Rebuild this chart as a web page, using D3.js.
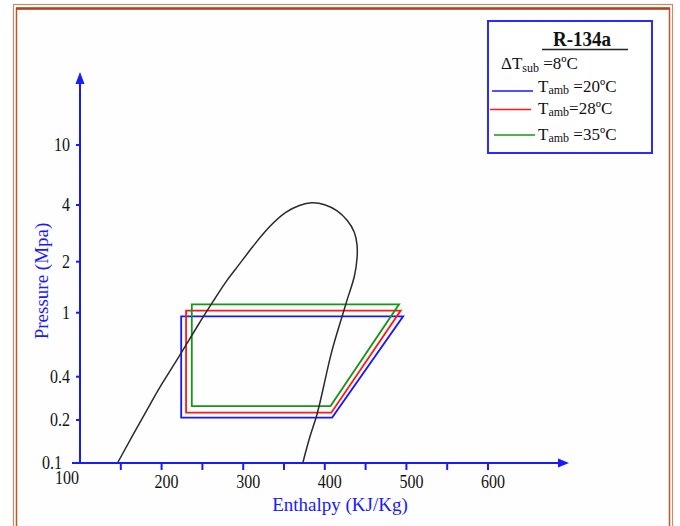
<!DOCTYPE html>
<html>
<head>
<meta charset="utf-8">
<script src="https://cdn.jsdelivr.net/npm/d3@7"></script>
<style>
  body { margin: 0; background: #ffffff; }
  svg { display: block; }
  text { font-family: "Liberation Serif", "Times New Roman", serif; }
</style>
</head>
<body>
<svg id="chart" width="680" height="526"></svg>
<script>
// Axis ticks and labels
const xTickValues = [150, 200, 250, 300, 350, 400, 450, 500, 550, 600];
const xTickLabels = [100, 200, 300, 400, 500, 600];
const yTickValues = [0.1, 0.2, 0.4, 1, 2, 4, 10];

// Saturation dome of R-134a (enthalpy kJ/kg, pressure MPa)
const domeH = [146, 168, 189, 197, 222, 246, 265, 280, 292, 311, 332, 353, 369, 384, 400, 415, 428, 437, 440, 440, 437, 429, 424, 416, 407, 399, 390, 383, 373];
const domeP = [0.1, 0.17, 0.275, 0.334, 0.538, 0.863, 1.205, 1.56, 1.84, 2.39, 3.09, 3.72, 4.0, 4.19, 4.06, 3.76, 3.33, 2.88, 2.45, 2.12, 1.63, 1.27, 1.05, 0.78, 0.546, 0.35, 0.207, 0.165, 0.1];

// Refrigeration cycles for three ambient temperatures
const cycleLabels = ["20ºC", "28ºC", "35ºC"];
const cycleColors = ["#1818ff", "#ff1818", "#169616"];
const hCondOut = [224, 230, 237];   // enthalpy after condenser / expansion
const hEvapOut = [409, 408, 407];   // enthalpy at compressor inlet
const hCompOut = [496, 493, 491];   // enthalpy at compressor outlet
const pHigh = [0.95, 1.03, 1.12];   // condensing pressure
const pLow = [0.208, 0.225, 0.25];  // evaporating pressure

const svg = d3.select("#chart");
const axisBlue = "#1a1aff";
const stretch = "scale(1,1.15)";

// Decorative page frame
svg.append("rect").attr("x", 13.5).attr("y", 4.5).attr("width", 659).attr("height", 560)
  .attr("fill", "none").attr("stroke", "#c98a66").attr("stroke-width", 1.2);
svg.append("rect").attr("x", 16.5).attr("y", 8.5).attr("width", 653).attr("height", 560)
  .attr("fill", "#fefefe").attr("stroke", "#b45a2e").attr("stroke-width", 1.5);
svg.append("line").attr("x1", 16).attr("x2", 670).attr("y1", 8.5).attr("y2", 8.5)
  .attr("stroke", "#a8461c").attr("stroke-width", 2.5);

// Scales
const x = d3.scaleLinear().domain([100, 600]).range([80, 488]);
const y = d3.scaleLog().domain(yTickValues).range([463, 420, 376.7, 312.7, 261.7, 205, 145]);

// Cycles
const cycleLine = d3.line().x(d => x(d[0])).y(d => y(d[1])).curve(d3.curveLinearClosed);
cycleLabels.forEach((lab, i) => {
  const pts = [[hCondOut[i], pLow[i]], [hEvapOut[i], pLow[i]], [hCompOut[i], pHigh[i]], [hCondOut[i], pHigh[i]]];
  svg.append("path").attr("d", cycleLine(pts)).attr("fill", "none")
    .attr("stroke", cycleColors[i]).attr("stroke-width", 1.8).attr("stroke-linejoin", "miter");
});

// Dome
const domeLine = d3.line().x((d, i) => x(domeH[i])).y((d, i) => y(domeP[i])).curve(d3.curveBasis);
svg.append("path").attr("d", domeLine(domeH)).attr("fill", "none")
  .attr("stroke", "#2a2a2a").attr("stroke-width", 1.5);

// Axes
const x0 = x(100), y0 = y(0.1);
svg.append("line").attr("x1", 72).attr("x2", 562).attr("y1", y0).attr("y2", y0)
  .attr("stroke", axisBlue).attr("stroke-width", 2);
svg.append("path").attr("d", `M569,${y0} L558,${y0 - 4.5} L558,${y0 + 4.5} Z`).attr("fill", axisBlue);
svg.append("line").attr("x1", x0).attr("x2", x0).attr("y1", y0 + 1).attr("y2", 80)
  .attr("stroke", axisBlue).attr("stroke-width", 2);
svg.append("path").attr("d", `M${x0},72 L${x0 - 4.5},84 L${x0 + 4.5},84 Z`).attr("fill", axisBlue);

// X ticks
svg.selectAll(".xt").data(xTickValues).join("line")
  .attr("x1", d => x(d)).attr("x2", d => x(d)).attr("y1", y0).attr("y2", y0 + 7)
  .attr("stroke", axisBlue).attr("stroke-width", 2);
svg.selectAll(".xl").data(xTickLabels).join("text")
  .attr("transform", d => `translate(${d === 100 ? x(d) - 13 : x(d) + 5},${d === 100 ? 484 : 488}) ${stretch}`)
  .attr("text-anchor", "middle").attr("font-size", 16).attr("fill", "#111")
  .text(d => d);

// Y ticks
svg.selectAll(".yt").data(yTickValues.slice(1)).join("line")
  .attr("x1", x0 - 4).attr("x2", x0).attr("y1", d => y(d)).attr("y2", d => y(d))
  .attr("stroke", axisBlue).attr("stroke-width", 2);
svg.selectAll(".yl").data(yTickValues).join("text")
  .attr("transform", d => `translate(${d === 0.1 ? 62 : 70},${y(d) + 6}) ${stretch}`)
  .attr("text-anchor", "end").attr("font-size", 16).attr("fill", "#111")
  .text(d => d);

// Axis titles
svg.append("text").attr("x", 340).attr("y", 511).attr("text-anchor", "middle")
  .attr("font-size", 19).attr("fill", axisBlue).text("Enthalpy (KJ/Kg)");
svg.append("text").attr("transform", "translate(48,281) rotate(-90)").attr("text-anchor", "middle")
  .attr("font-size", 19).attr("fill", axisBlue).text("Pressure (Mpa)");

// Legend
const lg = svg.append("g");
lg.append("rect").attr("x", 488).attr("y", 21).attr("width", 164).attr("height", 132)
  .attr("fill", "#ffffff").attr("stroke", "#2a2aff").attr("stroke-width", 2);
lg.append("text").attr("transform", `translate(582,46) ${stretch}`).attr("text-anchor", "middle")
  .attr("font-size", 19).attr("font-weight", "bold").attr("fill", "#111").text("R-134a");
lg.append("line").attr("x1", 542).attr("x2", 628).attr("y1", 49.5).attr("y2", 49.5)
  .attr("stroke", "#222").attr("stroke-width", 1.5);

const dt = lg.append("text").attr("x", 501).attr("y", 69).attr("font-size", 17).attr("fill", "#111");
dt.append("tspan").text("ΔT");
dt.append("tspan").attr("font-size", 12).attr("dy", 3).text("sub");
dt.append("tspan").attr("dy", -3).text(" =8ºC");

const rowY = [91, 109.5, 135];
const rowBase = [92, 114, 140];
const rowX0 = [492, 490, 494];
cycleLabels.forEach((lab, i) => {
  lg.append("line").attr("x1", rowX0[i]).attr("x2", rowX0[i] + 41).attr("y1", rowY[i]).attr("y2", rowY[i])
    .attr("stroke", cycleColors[i]).attr("stroke-width", 1.5);
  const t = lg.append("text").attr("x", 538).attr("y", rowBase[i])
    .attr("font-size", 17).attr("fill", "#111");
  t.append("tspan").text("T");
  t.append("tspan").attr("font-size", 12).attr("dy", 2).text("amb");
  t.append("tspan").attr("dy", -2).text((i === 1 ? "=" : " =") + lab);
});
</script>
</body>
</html>
